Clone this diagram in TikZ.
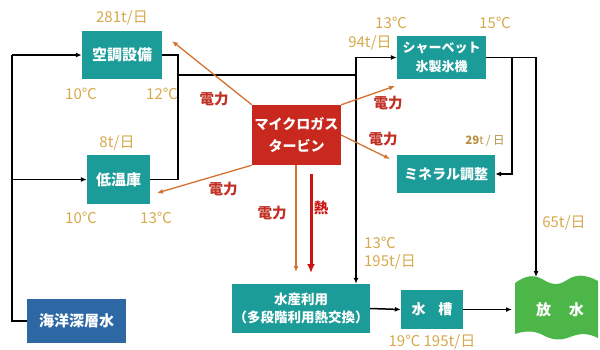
\documentclass[tikz,border=0pt]{standalone}
\usepackage{fontspec}
\setmainfont{Noto Sans CJK JP}
\usetikzlibrary{arrows.meta}
\definecolor{tealbox}{RGB}{28,156,152}
\definecolor{redbox}{RGB}{200,40,30}
\definecolor{bluebox}{RGB}{46,104,164}
\definecolor{greenbox}{RGB}{76,182,72}
\definecolor{elecline}{RGB}{212,112,48}
\definecolor{goldtxt}{RGB}{214,170,76}
\definecolor{redtxt}{RGB}{192,48,36}
\definecolor{heatred}{RGB}{204,20,20}
\begin{document}
\begin{tikzpicture}[x=1pt,y=-1pt,
  box/.style={fill=tealbox, text=white, font=\fontsize{14}{17}\selectfont\bfseries, align=center, inner sep=0pt, minimum width=#1},
  gold/.style={text=goldtxt, font=\fontsize{15}{17}\selectfont, inner sep=0pt},
  pw/.style={text=redtxt, font=\fontsize{14.5}{16}\selectfont\bfseries, inner sep=0pt},
  pipe/.style={draw=black, line width=1.5pt},
  flow/.style={pipe, -{Latex[length=6pt,width=5pt]}},
  elec/.style={draw=elecline, line width=1.3pt, -{Latex[length=6pt,width=5pt]}},
  heat/.style={draw=heatred, line width=3pt, -{Latex[length=9pt,width=8pt]}}
]
\useasboundingbox (0,0) rectangle (600,349);

% release shape
\fill[greenbox] (515,283) .. controls (525,276) and (533,274) .. (542,279)
  .. controls (552,285) and (558,286) .. (567,280)
  .. controls (576,274) and (585,274) .. (598,281)
  -- (598,338) .. controls (588,333) and (580,333) .. (570,337)
  .. controls (560,341) and (552,340) .. (543,335)
  .. controls (533,330) and (524,331) .. (515,334) -- cycle;
\node[text=white, font=\fontsize{15}{17}\selectfont\bfseries, inner sep=0pt] (rel) at (560,310) {放\hspace{1.2em}水};
\coordinate (reltop) at (536,277);
\coordinate (relwest) at (512,309.5);

% boxes
\node[box=80pt, minimum height=48pt, font=\fontsize{15}{17}\selectfont\bfseries] (ac) at (122,55) {空調設備};
\node[box=63pt, minimum height=49pt, font=\fontsize{15}{17}\selectfont\bfseries] (cold) at (118.5,179.5) {低温庫};
\node[box=89pt, minimum height=60pt, fill=redbox, font=\fontsize{14}{22}\selectfont\bfseries] (mgt) at (296.5,135) {マイクロガス\\タービン};
\node[box=89pt, minimum height=43pt, font=\fontsize{13}{19}\selectfont\bfseries] (sher) at (441.5,57.5) {シャーベット\\氷製氷機};
\node[box=98pt, minimum height=38pt] (min) at (446,174) {ミネラル調整};
\node[box=99pt, minimum height=44pt, fill=bluebox, font=\fontsize{15}{17}\selectfont\bfseries] (deep) at (76.5,321) {海洋深層水};
\node[box=138pt, minimum height=49pt, font=\fontsize{13.5}{18}\selectfont\bfseries] (aqua) at (301,308.5) {水産利用\\（多段階利用熱交換）};
\node[box=62pt, minimum height=39pt] (tank) at (432,309.5) {水\hspace{0.9em}槽};

% black pipes
\coordinate (lx) at (12,0);
\coordinate (rx) at (178,0);
\coordinate (j1) at (178,75);
\coordinate (j2) at (356,75);
\coordinate (k1) at (512,0);
\draw[pipe] (deep.west) -| (lx |- ac.west);
\draw[flow] (lx |- ac.west) -- (ac.west);
\draw[flow] (lx |- cold.west) -- (cold.west);
\draw[pipe] (ac.east) -| (rx |- cold.east) -- (cold.east);
\draw[pipe] (j1) -- (j2);
\draw[flow] (j2) |- (sher.west);
\draw[flow] (j2) -- (j2 |- aqua.north);
\draw[flow] (sher.east) -| (reltop);
\draw[flow] (k1 |- sher.east) |- (min.east);
\draw[flow] (aqua.east) -- (tank.west);
\draw[flow] (tank.east) -- (relwest);

% electricity
\coordinate (e1) at (172,41);
\coordinate (e2) at (157,193);
\coordinate (e3) at (395,86);
\coordinate (e4) at (390,159);
\coordinate (e5) at (296,272);
\draw[elec] (mgt.north west) -- (e1);
\draw[elec] (mgt.south west) -- (e2);
\draw[elec] (mgt.north east) -- (e3);
\draw[elec] (mgt.east) -- (e4);
\draw[elec] (mgt.south -| e5) -- (e5);
\coordinate (h1) at (311,174);
\coordinate (h2) at (311,273);
\draw[heat] (h1) -- (h2);

% labels
\node[pw] (p1) at (214,99) {電力};
\node[pw] (p2) at (223,189) {電力};
\node[pw] (p3) at (388,103) {電力};
\node[pw] (p4) at (383,139) {電力};
\node[pw] (p5) at (272,213) {電力};
\node[pw, text=heatred] (p6) at (321,208) {熱};

\node[gold] (g1) at (122,18) {281t/日};
\node[gold] (g2) at (81,94) {10℃};
\node[gold] (g3) at (162,94) {12℃};
\node[gold] (g4) at (117,143) {8t/日};
\node[gold] (g5) at (81,218) {10℃};
\node[gold] (g6) at (156,218) {13℃};
\node[gold] (g7) at (391,23) {13℃};
\node[gold] (g8) at (495,23) {15℃};
\node[gold] (g9) at (370,43) {94t/日};
\node[gold, text=goldtxt!85!black, font=\fontsize{11.5}{13}\selectfont] (g10) at (485,141) {\textbf{29}t / 日};
\node[gold] (g11) at (564,223) {65t/日};
\node[gold] (g12) at (380,243) {13℃};
\node[gold] (g13) at (390,262) {195t/日};
\node[gold] (g14) at (432,342) {19℃ 195t/日};
\end{tikzpicture}
\end{document}
